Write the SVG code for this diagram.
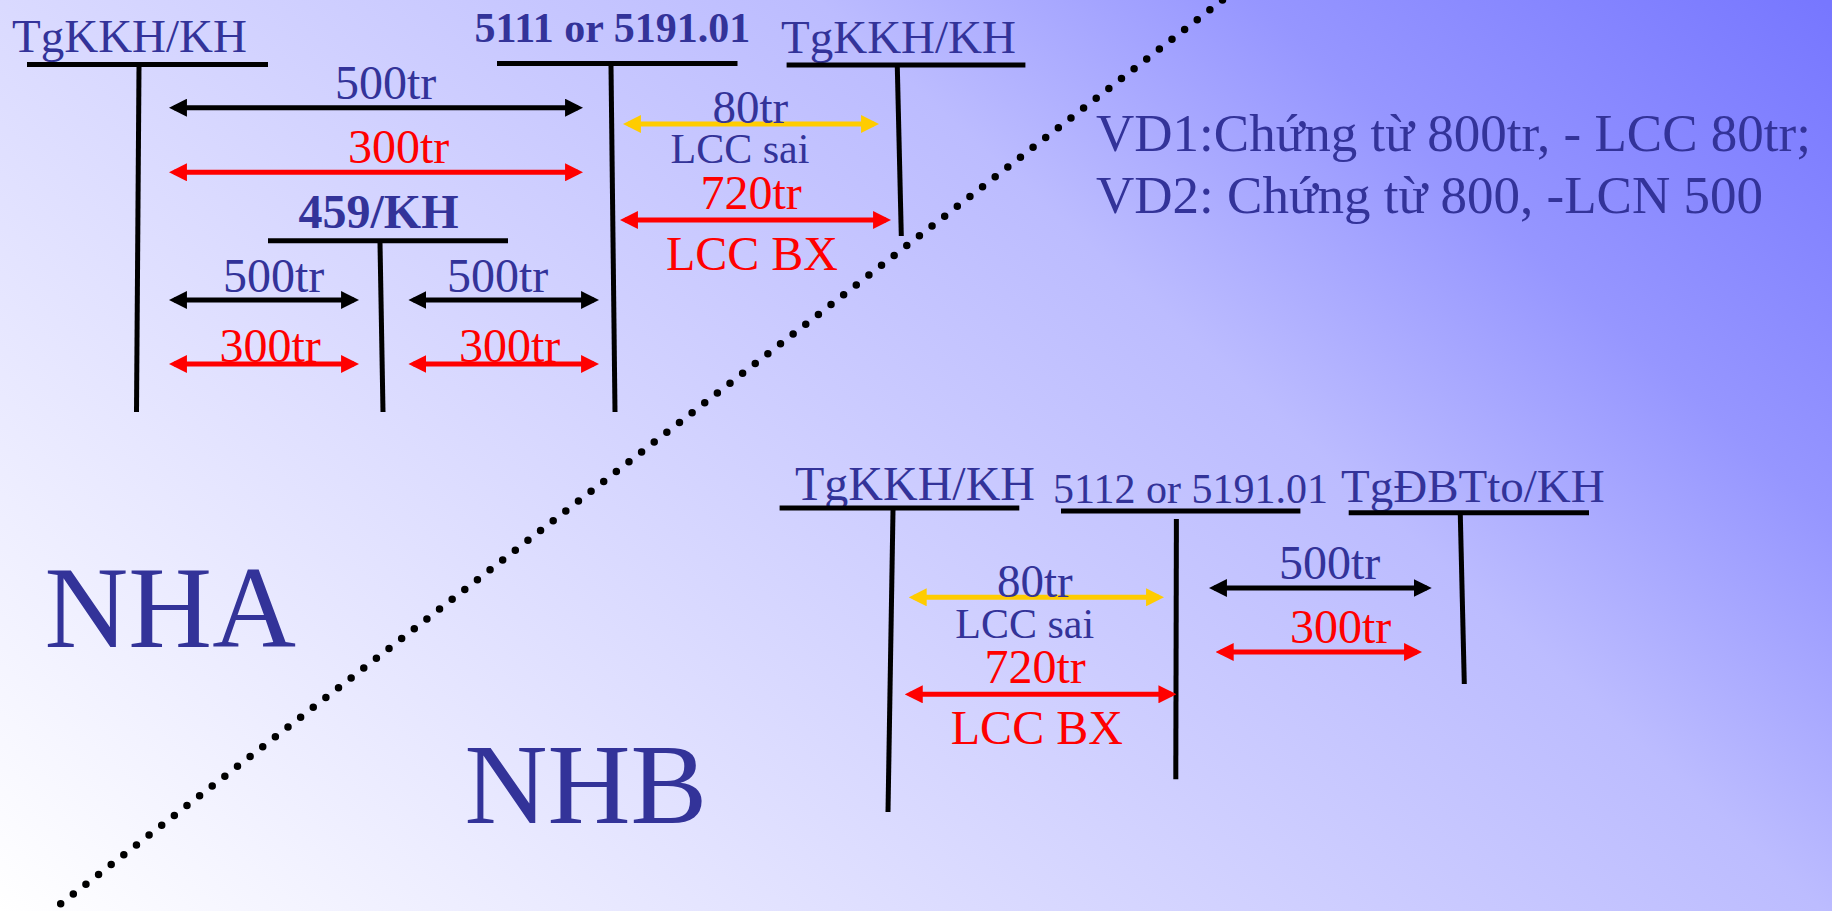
<svg xmlns="http://www.w3.org/2000/svg" width="1832" height="911" viewBox="0 0 1832 911">
<style>
text{font-family:"Liberation Serif","Times New Roman",serif}
.n{fill:#333399}
.r{fill:#ff0000}
.b{font-weight:bold}
.acc line{stroke:#000;stroke-width:5;stroke-linecap:butt}
.ab{stroke:#000;stroke-width:5;marker-start:url(#hb);marker-end:url(#hb)}
.ar{stroke:#ff0000;stroke-width:5;marker-start:url(#hr);marker-end:url(#hr)}
.ay{stroke:#ffcc00;stroke-width:5;marker-start:url(#hy);marker-end:url(#hy)}
</style>
<defs>
<linearGradient id="bg" gradientUnits="userSpaceOnUse" x1="0" y1="911" x2="1274" y2="-496">
<stop offset="0" stop-color="#ffffff"/>
<stop offset="0.355" stop-color="#dadaff"/>
<stop offset="0.645" stop-color="#bcbcff"/>
<stop offset="0.8" stop-color="#9696ff"/>
<stop offset="1" stop-color="#7777ff"/>
</linearGradient>
<marker id="hb" viewBox="0 0 10 10" refX="7.2" refY="5" markerWidth="18" markerHeight="18" markerUnits="userSpaceOnUse" orient="auto-start-reverse"><path d="M0,0 L10,5 L0,10 z" fill="#000"/></marker>
<marker id="hr" viewBox="0 0 10 10" refX="7.2" refY="5" markerWidth="18" markerHeight="18" markerUnits="userSpaceOnUse" orient="auto-start-reverse"><path d="M0,0 L10,5 L0,10 z" fill="#ff0000"/></marker>
<marker id="hy" viewBox="0 0 10 10" refX="7.2" refY="5" markerWidth="18" markerHeight="18" markerUnits="userSpaceOnUse" orient="auto-start-reverse"><path d="M0,0 L10,5 L0,10 z" fill="#ffcc00"/></marker>
</defs>
<rect x="0" y="0" width="1832" height="911" fill="url(#bg)"/>
<line x1="1222.5" y1="0" x2="51.5" y2="911" stroke="#000" stroke-width="7.5" stroke-linecap="round" stroke-dasharray="0 16"/>

<g id="nha-tgkkh" class="acc">
<text class="n" x="12" y="52" font-size="47">TgKKH/KH</text>
<line x1="27" y1="64.5" x2="268" y2="64.5"/>
<line x1="139" y1="67" x2="136.5" y2="412"/>
</g>
<g id="nha-5111" class="acc">
<text class="n b" x="474.5" y="42" font-size="42">5111 or 5191.01</text>
<line x1="497" y1="63.5" x2="737.5" y2="63.5"/>
<line x1="611" y1="66" x2="615" y2="412"/>
</g>
<g id="nha-tgkkh2" class="acc">
<text class="n" x="781" y="53.3" font-size="47">TgKKH/KH</text>
<line x1="786.6" y1="65" x2="1025.4" y2="65"/>
<line x1="897.3" y1="67" x2="901.3" y2="236"/>
</g>
<g id="nha-459" class="acc">
<text class="n b" x="298.5" y="228" font-size="48">459/KH</text>
<line x1="268" y1="240.7" x2="508" y2="240.7"/>
<line x1="380" y1="243" x2="383" y2="412"/>
</g>

<g id="nhb-tgkkh" class="acc">
<text class="n" x="795" y="500" font-size="48">TgKKH/KH</text>
<line x1="779.6" y1="508" x2="1019.3" y2="508"/>
<line x1="893" y1="510" x2="888" y2="812"/>
</g>
<g id="nhb-5112" class="acc">
<text class="n" x="1053" y="502.7" font-size="42">5112 or 5191.01</text>
<line x1="1061" y1="511" x2="1300.4" y2="511"/>
<line x1="1176.4" y1="519" x2="1175.8" y2="779.3"/>
</g>
<g id="nhb-tgdbt" class="acc">
<text class="n" x="1341" y="501.7" font-size="47">TgĐBTto/KH</text>
<line x1="1348.7" y1="512.7" x2="1589" y2="512.7"/>
<line x1="1460.3" y1="515" x2="1464.3" y2="684"/>
</g>

<g id="connectors">
<line class="ab" x1="174" y1="107.7" x2="578" y2="107.7"/>
<line class="ar" x1="174" y1="172.3" x2="578" y2="172.3"/>
<line class="ab" x1="174" y1="300" x2="354" y2="300"/>
<line class="ab" x1="413.5" y1="300" x2="594" y2="300"/>
<line class="ar" x1="174" y1="364" x2="354" y2="364"/>
<line class="ar" x1="413.5" y1="364" x2="594" y2="364"/>
<line class="ay" x1="628" y1="124" x2="874" y2="124"/>
<line class="ar" x1="625" y1="220" x2="886" y2="220"/>
<line class="ab" x1="1214" y1="588" x2="1426.7" y2="588"/>
<line class="ar" x1="1220.7" y1="652" x2="1417" y2="652"/>
<line class="ay" x1="913.7" y1="597.3" x2="1159" y2="597.3"/>
<line class="ar" x1="909.8" y1="694.3" x2="1171.4" y2="694.3"/>
</g>

<g id="labels" font-size="48">
<text class="n" x="335" y="99.3">500tr</text>
<text class="r" x="348" y="163">300tr</text>
<text class="n" x="223" y="291.7">500tr</text>
<text class="n" x="447" y="291.7">500tr</text>
<text class="r" x="219.5" y="361.7">300tr</text>
<text class="r" x="459" y="361.7">300tr</text>
<text class="n" x="712.5" y="123.3" font-size="47">80tr</text>
<text class="n" x="670.5" y="162.7" font-size="42">LCC sai</text>
<text class="r" x="700.4" y="209.3">720tr</text>
<text class="r" x="666" y="270">LCC BX</text>
<text class="n" x="1279" y="579.3">500tr</text>
<text class="r" x="1290" y="643.3">300tr</text>
<text class="n" x="997" y="597" font-size="47">80tr</text>
<text class="n" x="955.3" y="638.3" font-size="42">LCC sai</text>
<text class="r" x="984.5" y="683.3">720tr</text>
<text class="r" x="950.8" y="744">LCC BX</text>
</g>

<g id="notes" font-size="53">
<text class="n" x="1096" y="151">VD1:Chứng từ 800tr, - LCC 80tr;</text>
<text class="n" x="1096" y="213.3">VD2: Chứng từ 800, -LCN 500</text>
</g>
<text class="n" x="44.6" y="646.7" font-size="116">NHA</text>
<text class="n" x="464.4" y="822.7" font-size="115">NHB</text>
</svg>
